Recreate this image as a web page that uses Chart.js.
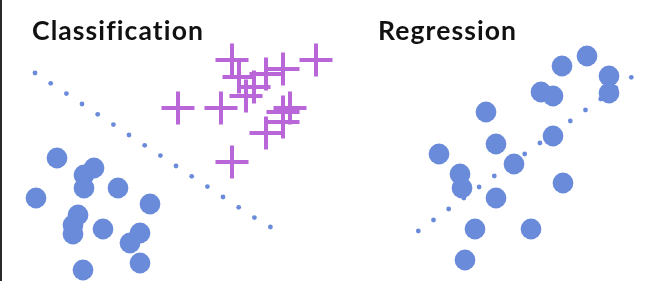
<!DOCTYPE html>
<html>
<head>
<meta charset="utf-8">
<script src="https://cdn.jsdelivr.net/npm/chart.js@4.4.1/dist/chart.umd.min.js"></script>
<style>
  html, body { margin: 0; padding: 0; background: #fff; }
  #wrap { position: relative; width: 648px; height: 281px; overflow: hidden; }
  #wrap:before { content: ''; position: absolute; left: 0; top: 0; width: 2px; height: 281px; background: #2a2a2a; z-index: 2; }
  canvas { position: absolute; left: 0; top: 0; }
  .ttl { position: absolute; top: 17px; font-family: Lato, sans-serif; font-weight: 700; font-size: 26.5px; line-height: 1; letter-spacing: 1.1px; font-variant-ligatures: none; color: #111; white-space: nowrap; }
</style>
</head>
<body>
<div id="wrap">
  <canvas id="cv" width="648" height="281"></canvas>
  <div class="ttl" style="left:32px">Classification</div>
  <div class="ttl" style="left:378px">Regression</div>
</div>
<script>
// point positions (x right, y down)
var classBoundaryX = [35, 50.7, 66.4, 82, 97.7, 113.4, 129, 144.7, 160.4, 176, 191.7, 207.4, 223, 238.7, 254.4, 270.4];
var classBoundaryY = [73, 83.3, 93.6, 104, 114.3, 124.6, 135, 145.3, 155.6, 166, 176.3, 186.6, 197, 207.3, 217.6, 227];
var blueX = [57, 94, 84, 84, 118, 36, 150, 78, 73, 73, 103, 140, 130, 140, 83];
var blueY = [158, 168, 175, 188, 188, 198, 204, 215, 225, 234, 229, 233, 243, 263, 270];
var crossX = [232, 316, 283, 266, 239, 254, 246, 178, 221, 290, 283, 283, 266, 232];
var crossY = [60, 60, 69, 74, 77, 87, 96, 108, 108, 108, 112, 122, 133, 162];
var regLineX = [418.3, 433.5, 448.7, 463.9, 479.1, 494.3, 509.5, 524.7, 539.9, 555.1, 570.3, 585.5, 600.7, 615.9, 631.3];
var regLineY = [231, 220, 209, 198, 187, 176, 165, 154, 143, 132, 121, 110, 99, 88, 77.3];
var regX = [587, 562, 609, 609, 541, 553, 486, 553, 496, 439, 514, 460, 462, 496, 563, 475, 531, 465];
var regY = [56, 66, 76, 93, 92, 96, 112, 136, 144, 154, 164, 174, 188, 198, 183, 229, 229, 260];

var BLUE = '#6a8ada';
var PURPLE = '#b866d8';

function pts(xs, ys) {
  return xs.map(function (x, i) { return { x: x, y: ys[i] }; });
}

new Chart(document.getElementById('cv'), {
  type: 'scatter',
  data: {
    datasets: [
      { data: pts(blueX, blueY), pointRadius: 10.4, backgroundColor: BLUE, borderWidth: 0, order: 1 },
      { data: pts(regX, regY), pointRadius: 10.4, backgroundColor: BLUE, borderWidth: 0, order: 1 },
      { data: pts(crossX, crossY), pointStyle: 'cross', pointRadius: 16.5, borderColor: PURPLE, borderWidth: 4, order: 1 },
      { data: pts(classBoundaryX, classBoundaryY), pointRadius: 2.4, backgroundColor: BLUE, borderWidth: 0, order: 2 },
      { data: pts(regLineX, regLineY), pointRadius: 2.4, backgroundColor: BLUE, borderWidth: 0, order: 2 }
    ]
  },
  options: {
    responsive: false,
    animation: false,
    devicePixelRatio: 1,
    layout: { padding: 0, autoPadding: false },
    clip: false,
    plugins: { legend: { display: false }, tooltip: { enabled: false }, title: { display: false } },
    scales: {
      x: { type: 'linear', min: 0, max: 648, display: false },
      y: { type: 'linear', min: 0, max: 281, reverse: true, display: false }
    }
  }
});
</script>
</body>
</html>
